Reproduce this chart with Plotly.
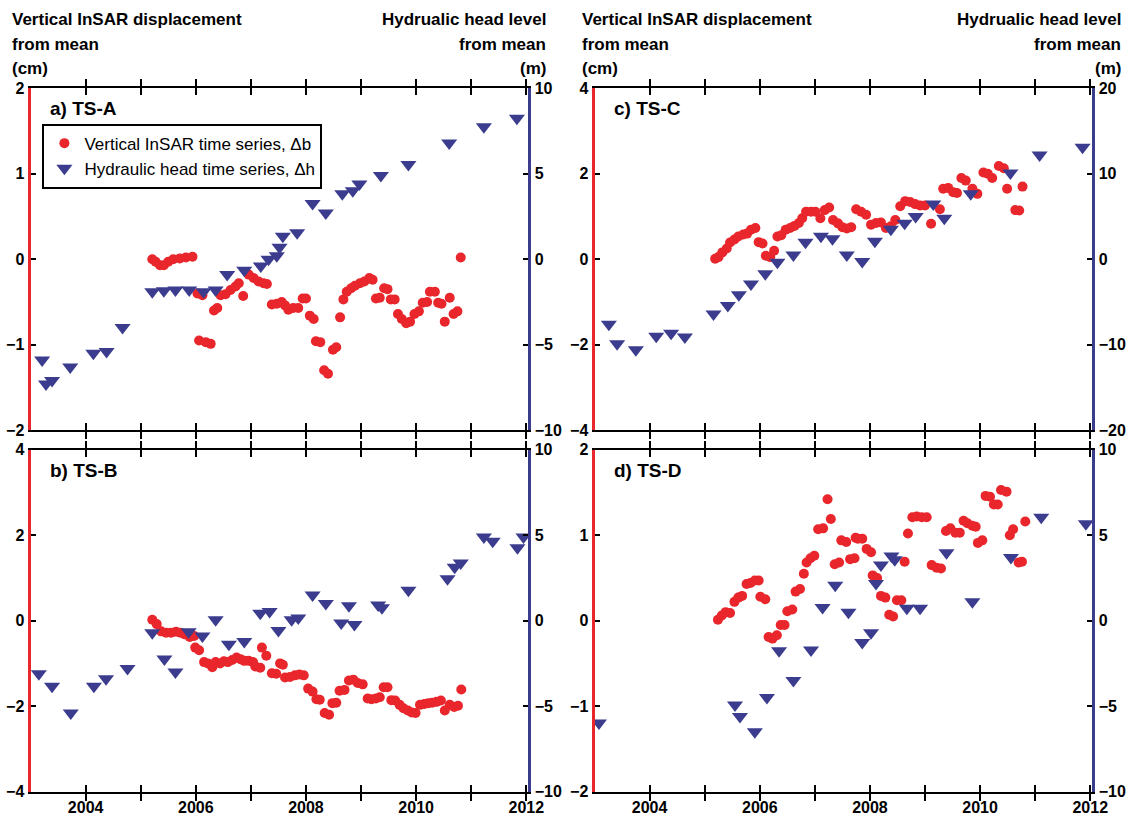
import plotly.graph_objects as go

# ---------------- data (years, left axis in cm, right axis in m) ----------------
# Panel a) TS-A
ta_r = [2005.21, 2005.27, 2005.35, 2005.42, 2005.50, 2005.59, 2005.71, 2005.82, 2005.94,
        2006.03, 2006.12, 2006.06, 2006.18, 2006.27, 2006.33, 2006.39,
        2006.45, 2006.54, 2006.63, 2006.72, 2006.78, 2006.86, 2006.96, 2007.05, 2007.14, 2007.23, 2007.29,
        2007.38, 2007.47, 2007.56, 2007.62, 2007.68, 2007.77, 2007.86, 2007.94, 2008.00,
        2008.07, 2008.14, 2008.18, 2008.26, 2008.33, 2008.40, 2008.49, 2008.55, 2008.62, 2008.68,
        2008.74, 2008.82, 2008.89, 2008.98, 2009.06, 2009.15, 2009.21,
        2009.27, 2009.34, 2009.42, 2009.48, 2009.54, 2009.61, 2009.67, 2009.74, 2009.82, 2009.89,
        2009.97, 2010.05, 2010.12, 2010.20, 2010.25, 2010.34, 2010.40, 2010.46, 2010.52, 2010.61,
        2010.68, 2010.75, 2010.81]
va_r = [0.00, -0.03, -0.07, -0.07, -0.03, 0.00, 0.01, 0.02, 0.03,
        -0.40, -0.42, -0.95, -0.97, -0.99, -0.60, -0.57,
        -0.42, -0.41, -0.36, -0.32, -0.28, -0.43, -0.18, -0.22, -0.26, -0.28, -0.29,
        -0.53, -0.52, -0.50, -0.54, -0.59, -0.57, -0.57, -0.46, -0.46,
        -0.66, -0.70, -0.96, -0.97, -1.30, -1.34, -1.06, -1.03, -0.68, -0.47,
        -0.38, -0.34, -0.31, -0.28, -0.26, -0.22, -0.24,
        -0.46, -0.45, -0.34, -0.35, -0.47, -0.47, -0.64, -0.70, -0.75, -0.73,
        -0.64, -0.61, -0.51, -0.50, -0.38, -0.38, -0.51, -0.52, -0.73, -0.45,
        -0.64, -0.61, 0.02]
ta_b = [2003.21, 2003.28, 2003.39, 2003.72, 2004.14, 2004.38, 2004.67,
        2005.21, 2005.42, 2005.63, 2005.88, 2006.14, 2006.36, 2006.57, 2006.88,
        2007.18, 2007.32, 2007.47, 2007.52, 2007.58, 2007.84, 2008.12, 2008.36,
        2008.66, 2008.85, 2008.97, 2009.36, 2009.86, 2010.60, 2011.23, 2011.83]
va_b = [-5.9, -7.3, -7.1, -6.3, -5.5, -5.4, -4.0,
        -1.9, -1.85, -1.8, -1.8, -1.9, -1.8, -0.9, -0.65,
        -0.4, 0.0, 0.2, 0.7, 1.35, 1.55, 3.26, 2.7,
        3.83, 4.0, 4.4, 4.9, 5.55, 6.8, 7.75, 8.25]

# Panel b) TS-B
tb_r = [2005.21, 2005.29, 2005.37, 2005.46, 2005.55, 2005.64, 2005.72, 2005.80, 2005.89, 2005.97, 2005.99, 2006.06,
        2006.15, 2006.22, 2006.30, 2006.36, 2006.44, 2006.51, 2006.58, 2006.66, 2006.74, 2006.81, 2006.88, 2006.96, 2007.04, 2007.08, 2007.17,
        2007.20, 2007.28, 2007.38, 2007.46, 2007.53, 2007.58, 2007.62, 2007.71, 2007.80, 2007.88, 2007.96,
        2008.04, 2008.12, 2008.19, 2008.25, 2008.34, 2008.42, 2008.48, 2008.55, 2008.61, 2008.70,
        2008.78, 2008.86, 2008.94, 2009.03, 2009.12, 2009.19, 2009.27, 2009.34, 2009.41, 2009.48,
        2009.55, 2009.62, 2009.70, 2009.77, 2009.85, 2009.92, 2009.99,
        2010.07, 2010.15, 2010.22, 2010.29, 2010.37, 2010.45, 2010.52, 2010.61, 2010.69, 2010.76, 2010.82]
vb_r = [0.02, -0.08, -0.25, -0.28, -0.28, -0.26, -0.28, -0.32, -0.38, -0.36, -0.63, -0.69,
        -0.97, -1.00, -1.09, -0.97, -1.00, -0.95, -0.97, -0.92, -0.86, -0.90, -0.94, -0.94, -0.97, -1.07, -1.10,
        -0.63, -0.82, -1.23, -1.24, -1.00, -1.03, -1.33, -1.32, -1.28, -1.26, -1.28,
        -1.59, -1.66, -1.84, -1.85, -2.16, -2.20, -1.93, -1.92, -1.64, -1.62,
        -1.40, -1.38, -1.46, -1.49, -1.82, -1.84, -1.82, -1.79, -1.56, -1.56,
        -1.86, -1.87, -1.97, -2.05, -2.10, -2.15, -2.16,
        -1.97, -1.95, -1.93, -1.92, -1.90, -1.87, -2.10, -1.97, -2.02, -1.99, -1.61]
tb_b = [2003.15, 2003.39, 2003.73, 2004.15, 2004.37, 2004.76,
        2005.21, 2005.43, 2005.63, 2005.87, 2006.12, 2006.36, 2006.60, 2006.88,
        2007.17, 2007.34, 2007.50, 2007.74, 2007.86, 2008.12, 2008.36, 2008.64, 2008.78, 2008.88,
        2009.31, 2009.38, 2009.86, 2010.57, 2010.70, 2010.81, 2011.23, 2011.39, 2011.84, 2011.95]
vb_b = [-3.1, -3.83, -5.4, -3.83, -3.4, -2.8,
        -0.71, -2.24, -3.0, -0.65, -0.9, 0.06, -1.38, -1.22,
        0.44, 0.53, -0.57, 0.06, 0.15, 1.5, 1.0, -0.13, 0.88, -0.23,
        0.92, 0.76, 1.78, 2.45, 3.12, 3.37, 4.9, 4.65, 4.27, 4.9]

# Panel c) TS-C
tc_r = [2005.19, 2005.25, 2005.32, 2005.40, 2005.46, 2005.54, 2005.61, 2005.70, 2005.77, 2005.84, 2005.92,
        2005.98, 2006.05, 2006.11, 2006.19, 2006.26, 2006.32, 2006.39,
        2006.47, 2006.55, 2006.63, 2006.71, 2006.77, 2006.84, 2006.93, 2007.01, 2007.10, 2007.18, 2007.26,
        2007.33, 2007.42, 2007.50, 2007.58, 2007.66, 2007.75, 2007.84, 2007.93,
        2008.02, 2008.11, 2008.20, 2008.29, 2008.38, 2008.46, 2008.55, 2008.64, 2008.73, 2008.82, 2008.91, 2009.00,
        2009.11, 2009.27, 2009.33, 2009.42, 2009.51, 2009.58, 2009.66, 2009.74, 2009.86, 2009.95,
        2010.06, 2010.14, 2010.22, 2010.34, 2010.43, 2010.49, 2010.64, 2010.71, 2010.77]
vc_r = [0.01, 0.05, 0.16, 0.25, 0.39, 0.46, 0.53, 0.58, 0.60, 0.69, 0.73,
        0.40, 0.37, 0.08, 0.05, 0.20, 0.53, 0.56,
        0.69, 0.73, 0.78, 0.85, 0.96, 1.11, 1.11, 1.11, 0.96, 1.15, 1.21,
        0.92, 0.84, 0.75, 0.72, 0.75, 1.17, 1.11, 1.04,
        0.81, 0.85, 0.86, 0.73, 0.77, 0.92, 1.24, 1.36, 1.34, 1.29, 1.26, 1.26,
        0.83, 1.17, 1.65, 1.67, 1.57, 1.55, 1.90, 1.84, 1.65, 1.53,
        2.03, 2.00, 1.90, 2.18, 2.13, 1.65, 1.15, 1.14, 1.70]
tc_b = [2003.26, 2003.41, 2003.75, 2004.12, 2004.39, 2004.64,
        2005.16, 2005.42, 2005.62, 2005.84, 2006.10, 2006.32, 2006.61, 2006.83,
        2007.11, 2007.32, 2007.58, 2007.86, 2008.09, 2008.38, 2008.63, 2008.83,
        2009.15, 2009.35, 2009.83, 2010.55, 2011.08, 2011.86]
vc_b = [-7.6, -9.9, -10.6, -9.0, -8.65, -9.1,
        -6.4, -5.4, -4.15, -2.9, -1.7, -0.35, 0.5, 2.0,
        2.7, 2.4, 0.5, -0.27, 2.1, 3.5, 4.2, 5.0,
        6.45, 4.8, 7.65, 10.1, 12.2, 13.1]

# Panel d) TS-D
td_r = [2005.24, 2005.31, 2005.38, 2005.46, 2005.54, 2005.61, 2005.68, 2005.76, 2005.83, 2005.91, 2005.98, 2006.01, 2006.10,
        2006.16, 2006.23, 2006.31, 2006.38, 2006.45, 2006.50, 2006.59, 2006.65, 2006.73, 2006.80, 2006.85, 2006.92, 2006.99,
        2007.06, 2007.15, 2007.23, 2007.29, 2007.36, 2007.44, 2007.48, 2007.57, 2007.64, 2007.72, 2007.74, 2007.78, 2007.86, 2007.94,
        2008.02, 2008.05, 2008.13, 2008.20, 2008.28, 2008.35, 2008.42, 2008.49, 2008.57, 2008.63, 2008.69, 2008.77, 2008.85, 2008.94,
        2009.03, 2009.12, 2009.21, 2009.29, 2009.38, 2009.46, 2009.55, 2009.63, 2009.70, 2009.77, 2009.86, 2009.92, 2009.96,
        2010.04, 2010.10, 2010.18, 2010.25, 2010.32, 2010.38, 2010.48, 2010.54, 2010.60, 2010.70, 2010.76, 2010.82]
vd_r = [0.01, 0.06, 0.10, 0.09, 0.22, 0.27, 0.29, 0.43, 0.44, 0.47, 0.47, 0.28, 0.25,
        -0.19, -0.21, -0.17, -0.05, -0.05, 0.11, 0.13, 0.34, 0.37, 0.55, 0.68, 0.73, 0.76,
        1.07, 1.08, 1.42, 1.19, 0.66, 0.68, 0.94, 0.92, 0.72, 0.73, 0.97, 0.96, 0.96, 0.84,
        0.80, 0.53, 0.50, 0.29, 0.27, 0.07, 0.05, 0.24, 0.24, 0.69, 1.02, 1.21, 1.22, 1.21,
        1.21, 0.65, 0.62, 0.61, 1.05, 1.08, 1.03, 1.03, 1.17, 1.14, 1.11, 1.10, 0.91,
        0.94, 1.46, 1.45, 1.36, 1.36, 1.53, 1.51, 1.00, 1.07, 0.68, 0.69, 1.16]
td_b = [2003.08, 2005.55, 2005.64, 2005.91, 2006.13, 2006.35, 2006.61, 2006.93,
        2007.14, 2007.37, 2007.61, 2007.86, 2008.02, 2008.11, 2008.20, 2008.39, 2008.45, 2008.67, 2008.91,
        2009.39, 2009.86, 2010.56, 2011.11, 2011.92]
vd_b = [-5.98, -4.93, -5.6, -6.5, -4.5, -1.76, -3.5, -1.72,
        0.77, 2.07, 0.5, -1.28, -0.71, 2.17, 3.26, 3.79, 3.56, 0.73, 0.73,
        3.98, 1.11, 3.7, 6.05, 5.67]

panel_labels = ["a) TS-A", "b) TS-B", "c) TS-C", "d) TS-D"]
left_ranges = [[-2, 2], [-4, 4], [-4, 4], [-2, 2]]
left_ticks = [[-2, -1, 0, 1, 2], [-4, -2, 0, 2, 4], [-4, -2, 0, 2, 4], [-2, -1, 0, 1, 2]]
right_ranges = [[-10, 10], [-10, 10], [-20, 20], [-10, 10]]
right_ticks = [[-10, -5, 0, 5, 10], [-10, -5, 0, 5, 10], [-20, -10, 0, 10, 20], [-10, -5, 0, 5, 10]]
year_ticks = list(range(2003, 2013))
year_labels = [str(y) if y % 2 == 0 else "" for y in year_ticks]
legend_names = ["Vertical InSAR time series, \u0394b", "Hydraulic head time series, \u0394h"]
left_title = ["Vertical InSAR displacement", "from mean", "(cm)"]
right_title = ["Hydrualic head level", "from mean", "(m)"]

series = [(ta_r, va_r, ta_b, va_b), (tb_r, vb_r, tb_b, vb_b),
          (tc_r, vc_r, tc_b, vc_b), (td_r, vd_r, td_b, vd_b)]

# ---------------- styling / layout ----------------
W, H = 1141, 829
RED = "#e8262c"
BLUE = "#3b3c8e"
FONT = "Liberation Sans"

col_px = [(31, 536), (603, 1108)]
row_px = [(82, 431), (451, 800)]
head_left_x = [10, 588]
head_right_x = [556, 1139]
header_y = [12, 37, 62]
# panel order: a (top-left), b (bottom-left), c (top-right), d (bottom-right)
grid = [(0, 0), (1, 0), (0, 1), (1, 1)]

fig = go.Figure()
layout = dict(width=W, height=H, autosize=False, margin=dict(l=0, r=0, t=0, b=0),
              paper_bgcolor="white", plot_bgcolor="white", showlegend=True,
              font=dict(family=FONT, color="black"))

tickfont = dict(family=FONT, size=16, color="black", weight="bold")

for i, (tr, vr, tb, vb) in enumerate(series):
    row, col = grid[i]
    xid = "x" if i == 0 else f"x{i + 1}"
    ylid = "y" if i == 0 else f"y{2 * i + 1}"
    yrid = f"y{2 * i + 2}"
    xkey = "xaxis" if i == 0 else f"xaxis{i + 1}"
    ylkey = "yaxis" if i == 0 else f"yaxis{2 * i + 1}"
    yrkey = f"yaxis{2 * i + 2}"
    x0, x1 = col_px[col]
    yt, yb = row_px[row]
    xdom = [x0 / W, x1 / W]
    ydom = [1 - yb / H, 1 - yt / H]

    fig.add_trace(go.Scatter(x=tb, y=vb, xaxis=xid, yaxis=yrid, mode="markers",
                             name=legend_names[1], legendrank=2, showlegend=(i == 0),
                             marker=dict(symbol="triangle-down", size=14, color=BLUE,
                                         line=dict(width=0))))
    fig.add_trace(go.Scatter(x=tr, y=vr, xaxis=xid, yaxis=ylid, mode="markers",
                             name=legend_names[0], legendrank=1, showlegend=(i == 0),
                             marker=dict(symbol="circle", size=10, color=RED,
                                         line=dict(width=0))))

    layout[xkey] = dict(domain=xdom, anchor=ylid, range=[2003, 2012.04],
                        tickmode="array", tickvals=year_ticks,
                        ticktext=year_labels if row == 1 else [""] * len(year_ticks),
                        ticks="inside", ticklen=7, tickwidth=1.5, tickcolor="black",
                        showline=True, linecolor="black", linewidth=2, mirror="allticks",
                        showgrid=False, zeroline=False, tickfont=tickfont)
    layout[ylkey] = dict(domain=ydom, anchor=xid, range=left_ranges[i],
                         tickmode="array", tickvals=left_ticks[i],
                         ticks="inside", ticklen=5, tickwidth=1.5, tickcolor="black",
                         showline=True, linecolor=RED, linewidth=3,
                         showgrid=False, zeroline=False, tickfont=tickfont)
    layout[yrkey] = dict(domain=ydom, anchor=xid, overlaying=ylid, side="right",
                         range=right_ranges[i], tickmode="array", tickvals=right_ticks[i],
                         ticks="inside", ticklen=5, tickwidth=1.5, tickcolor="black",
                         showline=True, linecolor=BLUE, linewidth=3,
                         showgrid=False, zeroline=False, tickfont=tickfont)

annotations = []
for i in range(4):
    xid = "x" if i == 0 else f"x{i + 1}"
    ylid = "y" if i == 0 else f"y{2 * i + 1}"
    annotations.append(dict(text=panel_labels[i], xref=f"{xid} domain", yref=f"{ylid} domain",
                            x=0.035, y=0.94, xanchor="left", yanchor="middle", showarrow=False,
                            font=dict(family=FONT, size=19, color="black", weight="bold")))

for c in range(2):
    for k in range(3):
        annotations.append(dict(text=left_title[k], xref="paper", yref="paper",
                                x=head_left_x[c] / W, y=1 - header_y[k] / H, xanchor="left",
                                yanchor="middle", showarrow=False,
                                font=dict(family=FONT, size=17, color="black", weight="bold")))
        annotations.append(dict(text=right_title[k], xref="paper", yref="paper",
                                x=head_right_x[c] / W, y=1 - header_y[k] / H, xanchor="right",
                                yanchor="middle", showarrow=False,
                                font=dict(family=FONT, size=17, color="black", weight="bold")))
layout["annotations"] = annotations

layout["legend"] = dict(x=43 / W, y=1 - 118 / H, xanchor="left", yanchor="top",
                        bgcolor="white", bordercolor="black", borderwidth=2,
                        font=dict(family=FONT, size=17, color="black"),
                        traceorder="normal")

fig.update_layout(**layout)
fig.write_html("out.html")
